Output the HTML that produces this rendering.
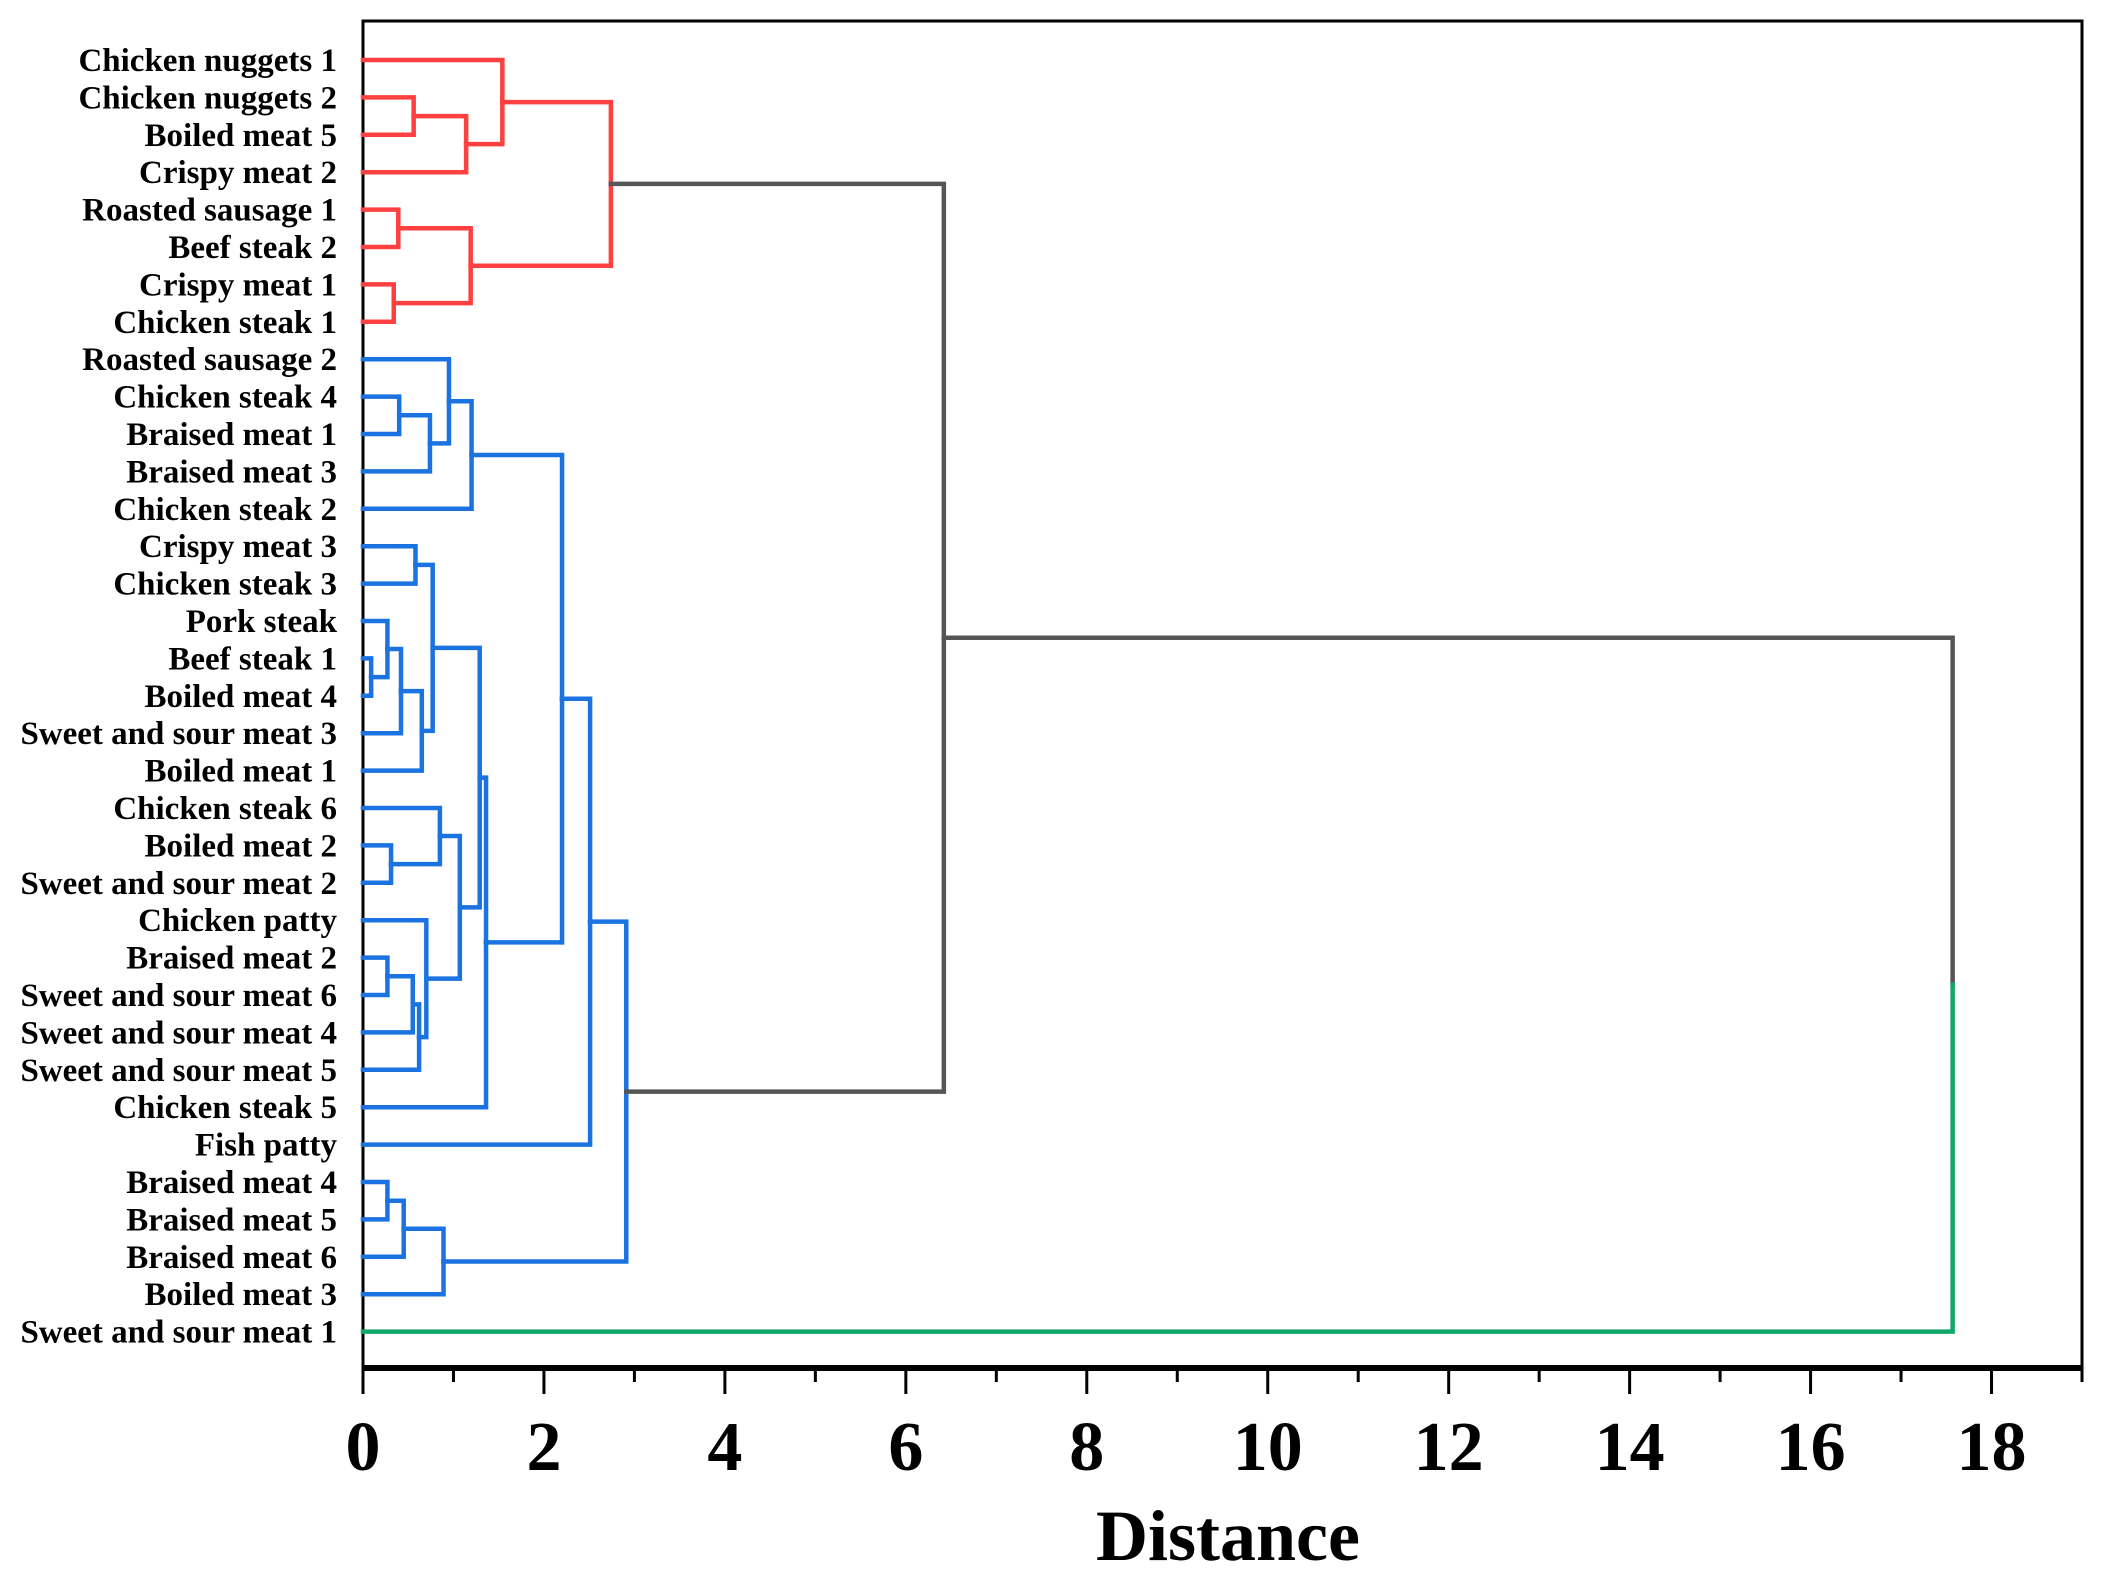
<!DOCTYPE html>
<html><head><meta charset="utf-8"><style>
html,body{margin:0;padding:0;background:#fff;}
svg{display:block;}
</style></head><body>
<svg id="chart" width="2104" height="1578" xmlns="http://www.w3.org/2000/svg"></svg>
<script>
const leafLabels = ["Chicken nuggets 1","Chicken nuggets 2","Boiled meat 5","Crispy meat 2","Roasted sausage 1","Beef steak 2","Crispy meat 1","Chicken steak 1","Roasted sausage 2","Chicken steak 4","Braised meat 1","Braised meat 3","Chicken steak 2","Crispy meat 3","Chicken steak 3","Pork steak","Beef steak 1","Boiled meat 4","Sweet and sour meat 3","Boiled meat 1","Chicken steak 6","Boiled meat 2","Sweet and sour meat 2","Chicken patty","Braised meat 2","Sweet and sour meat 6","Sweet and sour meat 4","Sweet and sour meat 5","Chicken steak 5","Fish patty","Braised meat 4","Braised meat 5","Braised meat 6","Boiled meat 3","Sweet and sour meat 1"];
const leafCluster = ["r","r","r","r","r","r","r","r","b","b","b","b","b","b","b","b","b","b","b","b","b","b","b","b","b","b","b","b","b","b","b","b","b","b","g"];
const mergeLeft  = [1,35,0,4,6,38,37,9,42,8,44,13,16,15,48,49,46,21,20,24,54,55,23,53,51,59,45,61,30,63,64,62,41,67];
const mergeRight = [2,3,36,5,7,39,40,10,11,43,12,14,17,47,18,19,50,22,52,25,26,27,56,57,58,28,60,29,31,32,33,65,66,34];
const mergeHeight= [0.56,1.14,1.54,0.39,0.34,1.19,2.74,0.40,0.74,0.95,1.20,0.58,0.09,0.27,0.42,0.65,0.77,0.31,0.85,0.27,0.55,0.62,0.70,1.07,1.29,1.36,2.20,2.51,0.27,0.45,0.89,2.91,6.42,17.57];
const xTicks = [0,2,4,6,8,10,12,14,16,18];

const svg = document.getElementById('chart');
const NS = 'http://www.w3.org/2000/svg';
const X0 = 363, XMAX = 2082, DMAX = 19, Y0 = 60, DY = 37.4, TOP = 21, AXY = 1368;
const xs = d => X0 + d * (XMAX - X0) / DMAX;
const colorMap = {r:'#ff4040', b:'#1a73e0', g:'#12a86a', k:'#555555'};
const N = leafLabels.length;

function mk(tag, attrs, parent) {
  const e = document.createElementNS(NS, tag);
  for (const k in attrs) e.setAttribute(k, attrs[k]);
  (parent || svg).appendChild(e);
  return e;
}

const frame = mk('rect', {x:X0, y:TOP, width:XMAX - X0, height:AXY - TOP, fill:'none', stroke:'#000', 'stroke-width':3});



const nodeY = [], nodeH = [], nodeC = [];
for (let i = 0; i < N; i++) { nodeY[i] = Y0 + i * DY; nodeH[i] = 0; nodeC[i] = leafCluster[i]; }
for (let k = 0; k < mergeLeft.length; k++) {
  const a = mergeLeft[k], b = mergeRight[k], id = N + k;
  nodeY[id] = (nodeY[a] + nodeY[b]) / 2;
  nodeH[id] = mergeHeight[k];
  nodeC[id] = nodeC[a] === nodeC[b] ? nodeC[a] : 'k';
}
const gLinks = mk('g', {fill:'none', 'stroke-width':4.5, 'stroke-linecap':'square'});


for (let k = 0; k < mergeLeft.length; k++) {
  const id = N + k, mx = xs(mergeHeight[k]), my = nodeY[id];
  [mergeLeft[k], mergeRight[k]].forEach(c => {
    let col = nodeC[id] !== 'k' ? nodeC[id] : (c < N ? nodeC[c] : 'k');
    const p = mk('path', {d:`M${xs(nodeH[c])},${nodeY[c]} H${mx} V${my}`, stroke:colorMap[col]}, gLinks);
    
    
  });
}

for (let i = 0; i < N; i++) {
  const t = mk('text', {x:337, y:nodeY[i] + 11, 'text-anchor':'end', 'font-family':'Liberation Serif, serif', 'font-weight':'bold', 'font-size':33, fill:'#000'});
  t.textContent = leafLabels[i];
  
  
}

const ax = mk('line', {x1:X0, x2:XMAX, y1:AXY, y2:AXY, stroke:'#000', 'stroke-width':6});


for (let d = 0; d <= DMAX; d++) {
  const major = d % 2 === 0;
  const tk = mk('line', {x1:xs(d), x2:xs(d), y1:AXY, y2:AXY + (major ? 26 : 14), stroke:'#000', 'stroke-width':3});
  
  
}
xTicks.forEach(v => {
  const t = mk('text', {x:xs(v), y:1470, 'text-anchor':'middle', 'font-family':'Liberation Serif, serif', 'font-weight':'bold', 'font-size':70, fill:'#000'});
  t.textContent = v;
  
  
});
const xt = mk('text', {x:1228, y:1560, 'text-anchor':'middle', 'font-family':'Liberation Serif, serif', 'font-weight':'bold', 'font-size':72, fill:'#000'});
xt.textContent = 'Distance';


</script>
</body></html>
